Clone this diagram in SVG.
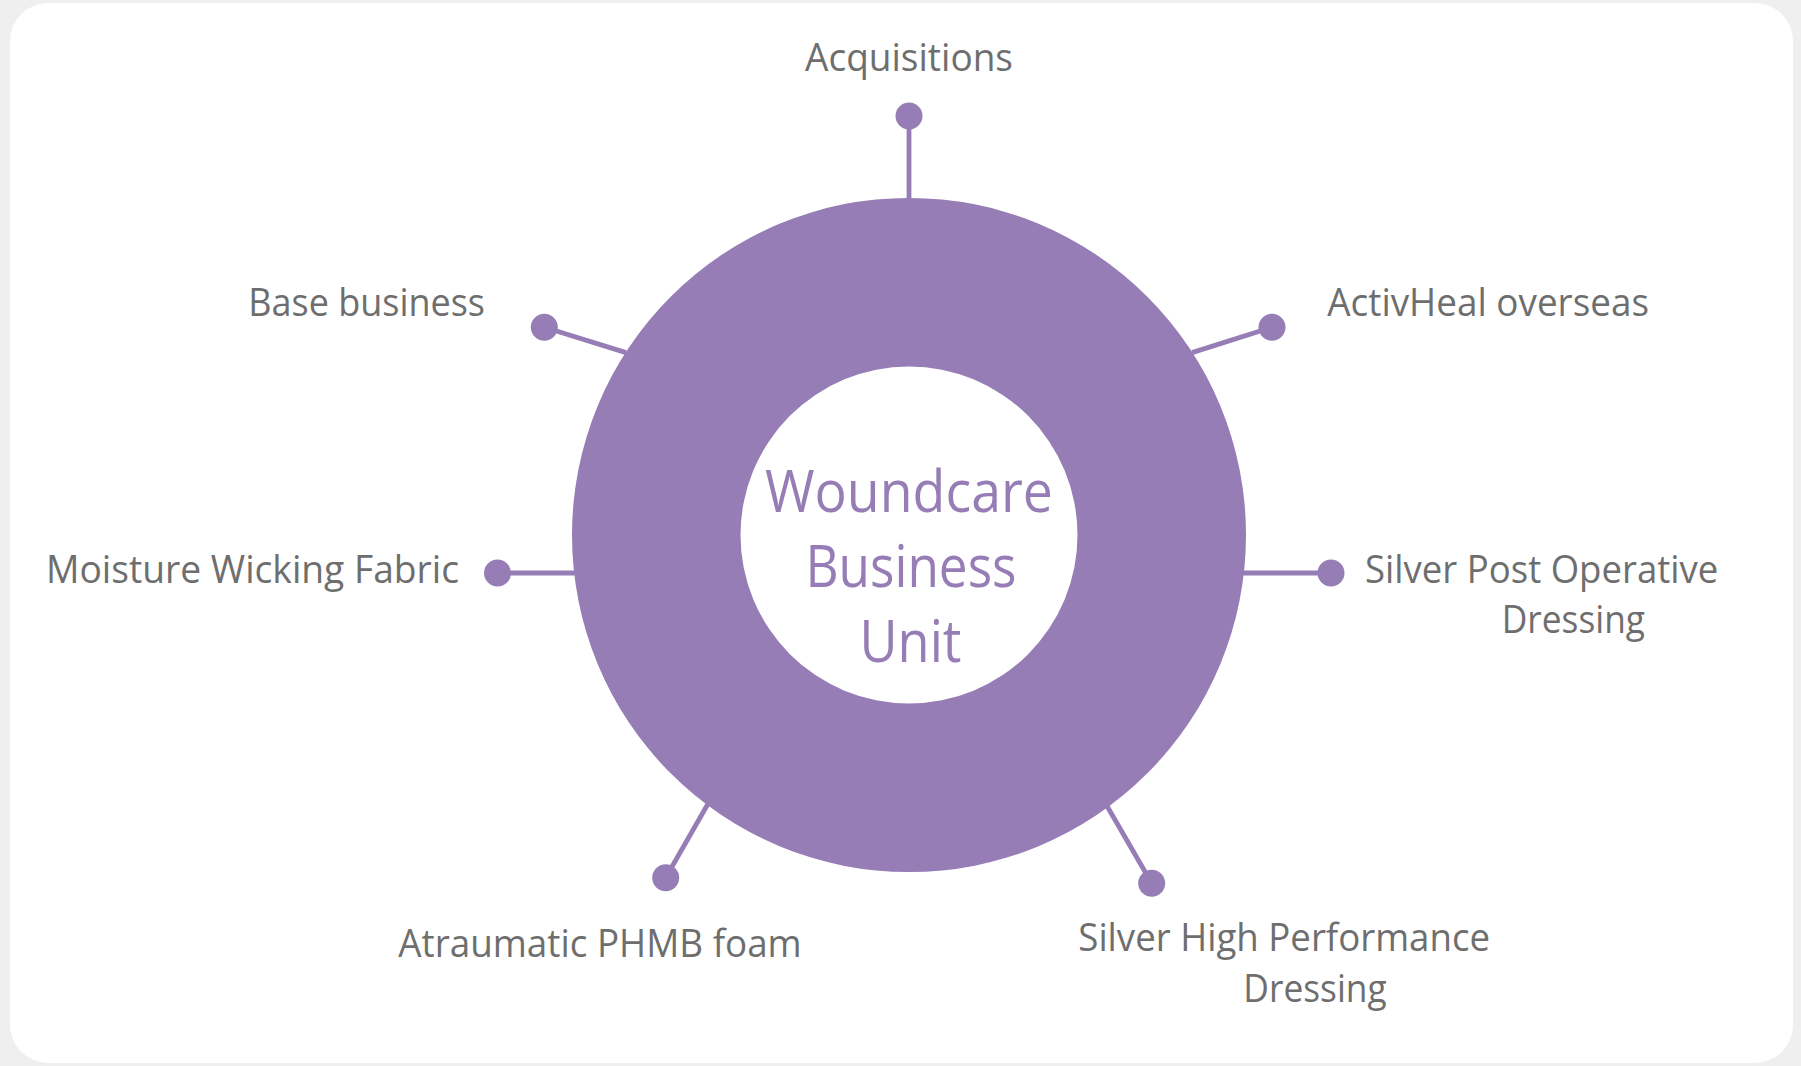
<svg xmlns="http://www.w3.org/2000/svg" width="1801" height="1066" viewBox="0 0 1801 1066">
  <style>
    .label { font-family: "Open Sans", "Noto Sans", "Liberation Sans", sans-serif; font-size: 37.5px; fill: #6e6e6e; }
    .hub-text { font-family: "Open Sans", "Noto Sans", "Liberation Sans", sans-serif; font-size: 59px; fill: #967db6; }
    .spoke { stroke: #967db6; stroke-width: 4.8; fill: none; }
    .dot { fill: #967db6; }
  </style>

  <!-- page background and card -->
  <rect x="0" y="0" width="1801" height="1066" fill="#efefef"/>
  <rect x="10" y="3" width="1783" height="1060" rx="38" ry="38" fill="#ffffff"/>

  <!-- spokes from the ring out to each item -->
  <g id="connectors">
    <line class="spoke" x1="909" y1="116" x2="909" y2="202"/>
    <line class="spoke" x1="544.3" y1="327.3" x2="626" y2="352.6"/>
    <line class="spoke" x1="1272" y1="327.3" x2="1192" y2="352.6"/>
    <line class="spoke" x1="497.5" y1="573" x2="575" y2="573"/>
    <line class="spoke" x1="1331" y1="573" x2="1243" y2="573"/>
    <line class="spoke" x1="665.7" y1="877.7" x2="709" y2="802"/>
    <line class="spoke" x1="1151.7" y1="883.3" x2="1107" y2="806"/>
  </g>

  <!-- central ring -->
  <g id="hub">
    <path fill="#967db6" fill-rule="evenodd"
          d="M 572 535 A 337 337 0 1 0 1246 535 A 337 337 0 1 0 572 535 Z
             M 740.5 535 A 168.5 168.5 0 1 0 1077.5 535 A 168.5 168.5 0 1 0 740.5 535 Z"/>
    <text class="hub-text" x="909" y="511.7" text-anchor="middle" textLength="288" lengthAdjust="spacingAndGlyphs">Woundcare</text>
    <text class="hub-text" x="911" y="586.7" text-anchor="middle" textLength="211" lengthAdjust="spacingAndGlyphs">Business</text>
    <text class="hub-text" x="910.5" y="661.7" text-anchor="middle" textLength="102" lengthAdjust="spacingAndGlyphs">Unit</text>
  </g>

  <g id="acquisitions">
    <circle class="dot" cx="909" cy="116" r="13.5"/>
    <text class="label" x="805" y="71" textLength="208" lengthAdjust="spacingAndGlyphs">Acquisitions</text>
  </g>

  <g id="base-business">
    <circle class="dot" cx="544.3" cy="327.3" r="13.5"/>
    <text class="label" x="248.3" y="315.7" textLength="236.7" lengthAdjust="spacingAndGlyphs">Base business</text>
  </g>

  <g id="activheal-overseas">
    <circle class="dot" cx="1272" cy="327.3" r="13.5"/>
    <text class="label" x="1327.3" y="315.7" textLength="321.7" lengthAdjust="spacingAndGlyphs">ActivHeal overseas</text>
  </g>

  <g id="moisture-wicking-fabric">
    <circle class="dot" cx="497.5" cy="573" r="13.5"/>
    <text class="label" x="46" y="583" textLength="413" lengthAdjust="spacingAndGlyphs">Moisture Wicking Fabric</text>
  </g>

  <g id="silver-post-operative-dressing">
    <circle class="dot" cx="1331" cy="573" r="13.5"/>
    <text class="label" x="1365" y="583.3" textLength="353.3" lengthAdjust="spacingAndGlyphs">Silver Post Operative</text>
    <text class="label" x="1501.7" y="633.3" textLength="143.3" lengthAdjust="spacingAndGlyphs">Dressing</text>
  </g>

  <g id="atraumatic-phmb-foam">
    <circle class="dot" cx="665.7" cy="877.7" r="13.5"/>
    <text class="label" x="398.3" y="956.5" textLength="403.4" lengthAdjust="spacingAndGlyphs">Atraumatic PHMB foam</text>
  </g>

  <g id="silver-high-performance-dressing">
    <circle class="dot" cx="1151.7" cy="883.3" r="13.5"/>
    <text class="label" x="1078.3" y="950.5" textLength="411.7" lengthAdjust="spacingAndGlyphs">Silver High Performance</text>
    <text class="label" x="1243.3" y="1001.7" textLength="143.4" lengthAdjust="spacingAndGlyphs">Dressing</text>
  </g>
</svg>
